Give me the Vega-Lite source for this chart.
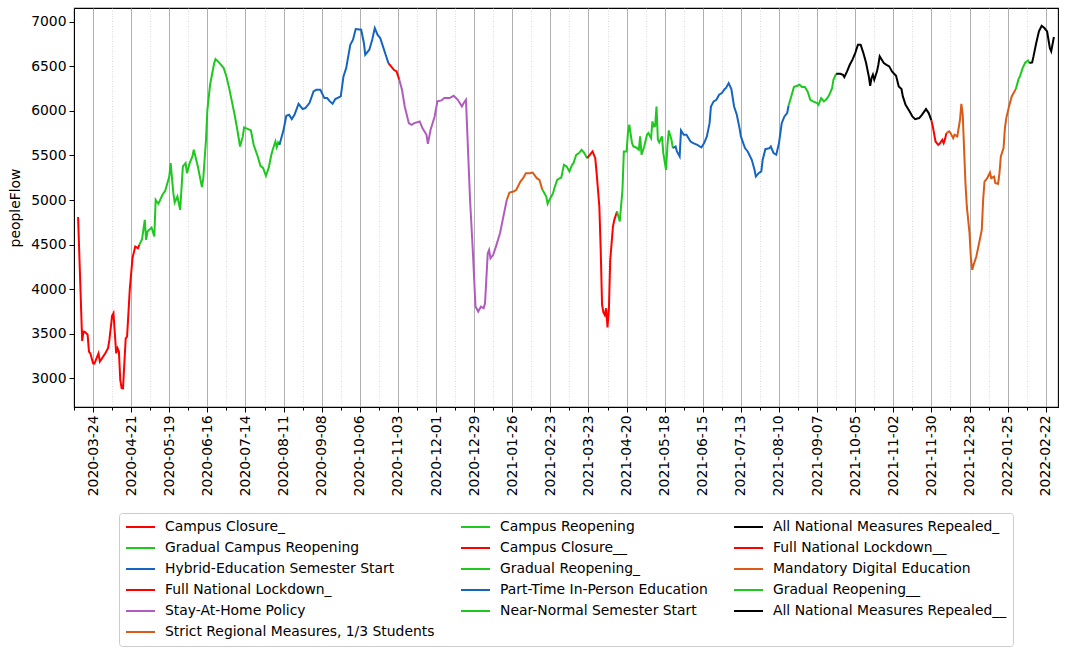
{
  "$schema": "https://vega.github.io/schema/vega-lite/v6.json",
  "width": 984,
  "height": 399,
  "autosize": {"type": "none"},
  "padding": {"left": 74, "top": 8, "right": 11, "bottom": 248},
  "background": "white",
  "config": {
    "font": "DejaVu Sans",
    "view": {"stroke": "black", "strokeWidth": 1.1},
    "axis": {"labelFont": "DejaVu Sans", "labelFontSize": 13.9, "labelColor": "black", "titleFont": "DejaVu Sans", "titleFontSize": 13.9, "titleFontWeight": "normal", "titleColor": "black", "domainColor": "black", "tickColor": "black", "tickWidth": 1}
  },
  "data": {"values": [
    {"date": "2020-03-13", "peopleFlow": 4810, "phase": "Campus Closure_"},
    {"date": "2020-03-16", "peopleFlow": 3420, "phase": "Campus Closure_"},
    {"date": "2020-03-17", "peopleFlow": 3525, "phase": "Campus Closure_"},
    {"date": "2020-03-18", "peopleFlow": 3520, "phase": "Campus Closure_"},
    {"date": "2020-03-20", "peopleFlow": 3490, "phase": "Campus Closure_"},
    {"date": "2020-03-21", "peopleFlow": 3300, "phase": "Campus Closure_"},
    {"date": "2020-03-22", "peopleFlow": 3280, "phase": "Campus Closure_"},
    {"date": "2020-03-24", "peopleFlow": 3168, "phase": "Campus Closure_"},
    {"date": "2020-03-25", "peopleFlow": 3165, "phase": "Campus Closure_"},
    {"date": "2020-03-28", "peopleFlow": 3280, "phase": "Campus Closure_"},
    {"date": "2020-03-29", "peopleFlow": 3187, "phase": "Campus Closure_"},
    {"date": "2020-04-02", "peopleFlow": 3280, "phase": "Campus Closure_"},
    {"date": "2020-04-04", "peopleFlow": 3337, "phase": "Campus Closure_"},
    {"date": "2020-04-05", "peopleFlow": 3430, "phase": "Campus Closure_"},
    {"date": "2020-04-07", "peopleFlow": 3700, "phase": "Campus Closure_"},
    {"date": "2020-04-08", "peopleFlow": 3730, "phase": "Campus Closure_"},
    {"date": "2020-04-10", "peopleFlow": 3280, "phase": "Campus Closure_"},
    {"date": "2020-04-11", "peopleFlow": 3337, "phase": "Campus Closure_"},
    {"date": "2020-04-12", "peopleFlow": 3300, "phase": "Campus Closure_"},
    {"date": "2020-04-13", "peopleFlow": 2980, "phase": "Campus Closure_"},
    {"date": "2020-04-14", "peopleFlow": 2890, "phase": "Campus Closure_"},
    {"date": "2020-04-15", "peopleFlow": 2888, "phase": "Campus Closure_"},
    {"date": "2020-04-17", "peopleFlow": 3449, "phase": "Campus Closure_"},
    {"date": "2020-04-18", "peopleFlow": 3468, "phase": "Campus Closure_"},
    {"date": "2020-04-20", "peopleFlow": 4000, "phase": "Campus Closure_"},
    {"date": "2020-04-22", "peopleFlow": 4350, "phase": "Campus Closure_"},
    {"date": "2020-04-24", "peopleFlow": 4478, "phase": "Campus Closure_"},
    {"date": "2020-04-26", "peopleFlow": 4460, "phase": "Campus Closure_"},
    {"date": "2020-04-27", "peopleFlow": 4497, "phase": "Campus Closure_"},

    {"date": "2020-04-27", "peopleFlow": 4497, "phase": "Gradual Campus Reopening"},
    {"date": "2020-04-29", "peopleFlow": 4560, "phase": "Gradual Campus Reopening"},
    {"date": "2020-05-01", "peopleFlow": 4778, "phase": "Gradual Campus Reopening"},
    {"date": "2020-05-02", "peopleFlow": 4553, "phase": "Gradual Campus Reopening"},
    {"date": "2020-05-03", "peopleFlow": 4647, "phase": "Gradual Campus Reopening"},
    {"date": "2020-05-06", "peopleFlow": 4692, "phase": "Gradual Campus Reopening"},
    {"date": "2020-05-08", "peopleFlow": 4591, "phase": "Gradual Campus Reopening"},
    {"date": "2020-05-09", "peopleFlow": 5003, "phase": "Gradual Campus Reopening"},
    {"date": "2020-05-11", "peopleFlow": 4958, "phase": "Gradual Campus Reopening"},
    {"date": "2020-05-14", "peopleFlow": 5059, "phase": "Gradual Campus Reopening"},
    {"date": "2020-05-16", "peopleFlow": 5104, "phase": "Gradual Campus Reopening"},
    {"date": "2020-05-19", "peopleFlow": 5264, "phase": "Gradual Campus Reopening"},
    {"date": "2020-05-20", "peopleFlow": 5414, "phase": "Gradual Campus Reopening"},
    {"date": "2020-05-22", "peopleFlow": 5077, "phase": "Gradual Campus Reopening"},
    {"date": "2020-05-23", "peopleFlow": 4973, "phase": "Gradual Campus Reopening"},
    {"date": "2020-05-25", "peopleFlow": 5040, "phase": "Gradual Campus Reopening"},
    {"date": "2020-05-27", "peopleFlow": 4890, "phase": "Gradual Campus Reopening"},
    {"date": "2020-05-29", "peopleFlow": 5377, "phase": "Gradual Campus Reopening"},
    {"date": "2020-05-31", "peopleFlow": 5414, "phase": "Gradual Campus Reopening"},
    {"date": "2020-06-01", "peopleFlow": 5302, "phase": "Gradual Campus Reopening"},
    {"date": "2020-06-03", "peopleFlow": 5414, "phase": "Gradual Campus Reopening"},
    {"date": "2020-06-05", "peopleFlow": 5489, "phase": "Gradual Campus Reopening"},
    {"date": "2020-06-06", "peopleFlow": 5564, "phase": "Gradual Campus Reopening"},
    {"date": "2020-06-09", "peopleFlow": 5377, "phase": "Gradual Campus Reopening"},
    {"date": "2020-06-12", "peopleFlow": 5145, "phase": "Gradual Campus Reopening"},
    {"date": "2020-06-13", "peopleFlow": 5246, "phase": "Gradual Campus Reopening"},
    {"date": "2020-06-15", "peopleFlow": 5676, "phase": "Gradual Campus Reopening"},
    {"date": "2020-06-16", "peopleFlow": 6013, "phase": "Gradual Campus Reopening"},
    {"date": "2020-06-18", "peopleFlow": 6294, "phase": "Gradual Campus Reopening"},
    {"date": "2020-06-21", "peopleFlow": 6537, "phase": "Gradual Campus Reopening"},
    {"date": "2020-06-22", "peopleFlow": 6582, "phase": "Gradual Campus Reopening"},
    {"date": "2020-06-25", "peopleFlow": 6537, "phase": "Gradual Campus Reopening"},
    {"date": "2020-06-28", "peopleFlow": 6481, "phase": "Gradual Campus Reopening"},
    {"date": "2020-06-30", "peopleFlow": 6387, "phase": "Gradual Campus Reopening"},
    {"date": "2020-07-02", "peopleFlow": 6256, "phase": "Gradual Campus Reopening"},
    {"date": "2020-07-04", "peopleFlow": 6107, "phase": "Gradual Campus Reopening"},
    {"date": "2020-07-06", "peopleFlow": 5957, "phase": "Gradual Campus Reopening"},
    {"date": "2020-07-08", "peopleFlow": 5789, "phase": "Gradual Campus Reopening"},
    {"date": "2020-07-10", "peopleFlow": 5601, "phase": "Gradual Campus Reopening"},
    {"date": "2020-07-12", "peopleFlow": 5714, "phase": "Gradual Campus Reopening"},
    {"date": "2020-07-13", "peopleFlow": 5815, "phase": "Gradual Campus Reopening"},
    {"date": "2020-07-16", "peopleFlow": 5796, "phase": "Gradual Campus Reopening"},
    {"date": "2020-07-18", "peopleFlow": 5781, "phase": "Gradual Campus Reopening"},
    {"date": "2020-07-20", "peopleFlow": 5620, "phase": "Gradual Campus Reopening"},
    {"date": "2020-07-23", "peopleFlow": 5489, "phase": "Gradual Campus Reopening"},
    {"date": "2020-07-25", "peopleFlow": 5384, "phase": "Gradual Campus Reopening"},
    {"date": "2020-07-27", "peopleFlow": 5358, "phase": "Gradual Campus Reopening"},
    {"date": "2020-07-29", "peopleFlow": 5272, "phase": "Gradual Campus Reopening"},
    {"date": "2020-07-31", "peopleFlow": 5358, "phase": "Gradual Campus Reopening"},
    {"date": "2020-08-02", "peopleFlow": 5508, "phase": "Gradual Campus Reopening"},
    {"date": "2020-08-03", "peopleFlow": 5564, "phase": "Gradual Campus Reopening"},
    {"date": "2020-08-05", "peopleFlow": 5657, "phase": "Gradual Campus Reopening"},
    {"date": "2020-08-06", "peopleFlow": 5594, "phase": "Gradual Campus Reopening"},
    {"date": "2020-08-07", "peopleFlow": 5646, "phase": "Gradual Campus Reopening"},
    {"date": "2020-08-08", "peopleFlow": 5620, "phase": "Gradual Campus Reopening"},

    {"date": "2020-08-08", "peopleFlow": 5620, "phase": "Hybrid-Education Semester Start"},
    {"date": "2020-08-11", "peopleFlow": 5789, "phase": "Hybrid-Education Semester Start"},
    {"date": "2020-08-13", "peopleFlow": 5946, "phase": "Hybrid-Education Semester Start"},
    {"date": "2020-08-15", "peopleFlow": 5957, "phase": "Hybrid-Education Semester Start"},
    {"date": "2020-08-17", "peopleFlow": 5908, "phase": "Hybrid-Education Semester Start"},
    {"date": "2020-08-19", "peopleFlow": 5957, "phase": "Hybrid-Education Semester Start"},
    {"date": "2020-08-22", "peopleFlow": 6080, "phase": "Hybrid-Education Semester Start"},
    {"date": "2020-08-25", "peopleFlow": 6021, "phase": "Hybrid-Education Semester Start"},
    {"date": "2020-08-27", "peopleFlow": 6032, "phase": "Hybrid-Education Semester Start"},
    {"date": "2020-08-30", "peopleFlow": 6088, "phase": "Hybrid-Education Semester Start"},
    {"date": "2020-09-02", "peopleFlow": 6219, "phase": "Hybrid-Education Semester Start"},
    {"date": "2020-09-04", "peopleFlow": 6237, "phase": "Hybrid-Education Semester Start"},
    {"date": "2020-09-07", "peopleFlow": 6237, "phase": "Hybrid-Education Semester Start"},
    {"date": "2020-09-10", "peopleFlow": 6144, "phase": "Hybrid-Education Semester Start"},
    {"date": "2020-09-12", "peopleFlow": 6144, "phase": "Hybrid-Education Semester Start"},
    {"date": "2020-09-14", "peopleFlow": 6107, "phase": "Hybrid-Education Semester Start"},
    {"date": "2020-09-16", "peopleFlow": 6080, "phase": "Hybrid-Education Semester Start"},
    {"date": "2020-09-18", "peopleFlow": 6133, "phase": "Hybrid-Education Semester Start"},
    {"date": "2020-09-22", "peopleFlow": 6163, "phase": "Hybrid-Education Semester Start"},
    {"date": "2020-09-24", "peopleFlow": 6387, "phase": "Hybrid-Education Semester Start"},
    {"date": "2020-09-26", "peopleFlow": 6481, "phase": "Hybrid-Education Semester Start"},
    {"date": "2020-09-29", "peopleFlow": 6743, "phase": "Hybrid-Education Semester Start"},
    {"date": "2020-10-01", "peopleFlow": 6799, "phase": "Hybrid-Education Semester Start"},
    {"date": "2020-10-03", "peopleFlow": 6919, "phase": "Hybrid-Education Semester Start"},
    {"date": "2020-10-07", "peopleFlow": 6911, "phase": "Hybrid-Education Semester Start"},
    {"date": "2020-10-09", "peopleFlow": 6762, "phase": "Hybrid-Education Semester Start"},
    {"date": "2020-10-10", "peopleFlow": 6631, "phase": "Hybrid-Education Semester Start"},
    {"date": "2020-10-13", "peopleFlow": 6687, "phase": "Hybrid-Education Semester Start"},
    {"date": "2020-10-15", "peopleFlow": 6792, "phase": "Hybrid-Education Semester Start"},
    {"date": "2020-10-17", "peopleFlow": 6930, "phase": "Hybrid-Education Semester Start"},
    {"date": "2020-10-19", "peopleFlow": 6855, "phase": "Hybrid-Education Semester Start"},
    {"date": "2020-10-21", "peopleFlow": 6818, "phase": "Hybrid-Education Semester Start"},
    {"date": "2020-10-23", "peopleFlow": 6724, "phase": "Hybrid-Education Semester Start"},
    {"date": "2020-10-25", "peopleFlow": 6631, "phase": "Hybrid-Education Semester Start"},
    {"date": "2020-10-27", "peopleFlow": 6537, "phase": "Hybrid-Education Semester Start"},

    {"date": "2020-10-27", "peopleFlow": 6537, "phase": "Full National Lockdown_"},
    {"date": "2020-10-29", "peopleFlow": 6500, "phase": "Full National Lockdown_"},
    {"date": "2020-10-31", "peopleFlow": 6462, "phase": "Full National Lockdown_"},
    {"date": "2020-11-02", "peopleFlow": 6444, "phase": "Full National Lockdown_"},
    {"date": "2020-11-04", "peopleFlow": 6350, "phase": "Full National Lockdown_"},

    {"date": "2020-11-04", "peopleFlow": 6350, "phase": "Stay-At-Home Policy"},
    {"date": "2020-11-06", "peopleFlow": 6237, "phase": "Stay-At-Home Policy"},
    {"date": "2020-11-08", "peopleFlow": 6050, "phase": "Stay-At-Home Policy"},
    {"date": "2020-11-11", "peopleFlow": 5863, "phase": "Stay-At-Home Policy"},
    {"date": "2020-11-13", "peopleFlow": 5845, "phase": "Stay-At-Home Policy"},
    {"date": "2020-11-15", "peopleFlow": 5863, "phase": "Stay-At-Home Policy"},
    {"date": "2020-11-19", "peopleFlow": 5882, "phase": "Stay-At-Home Policy"},
    {"date": "2020-11-21", "peopleFlow": 5807, "phase": "Stay-At-Home Policy"},
    {"date": "2020-11-24", "peopleFlow": 5732, "phase": "Stay-At-Home Policy"},
    {"date": "2020-11-25", "peopleFlow": 5631, "phase": "Stay-At-Home Policy"},
    {"date": "2020-11-27", "peopleFlow": 5789, "phase": "Stay-At-Home Policy"},
    {"date": "2020-11-30", "peopleFlow": 5938, "phase": "Stay-At-Home Policy"},
    {"date": "2020-12-02", "peopleFlow": 6107, "phase": "Stay-At-Home Policy"},
    {"date": "2020-12-05", "peopleFlow": 6118, "phase": "Stay-At-Home Policy"},
    {"date": "2020-12-07", "peopleFlow": 6144, "phase": "Stay-At-Home Policy"},
    {"date": "2020-12-11", "peopleFlow": 6144, "phase": "Stay-At-Home Policy"},
    {"date": "2020-12-14", "peopleFlow": 6170, "phase": "Stay-At-Home Policy"},
    {"date": "2020-12-17", "peopleFlow": 6125, "phase": "Stay-At-Home Policy"},
    {"date": "2020-12-20", "peopleFlow": 6050, "phase": "Stay-At-Home Policy"},
    {"date": "2020-12-21", "peopleFlow": 6080, "phase": "Stay-At-Home Policy"},
    {"date": "2020-12-23", "peopleFlow": 6125, "phase": "Stay-At-Home Policy"},
    {"date": "2020-12-24", "peopleFlow": 5751, "phase": "Stay-At-Home Policy"},
    {"date": "2020-12-26", "peopleFlow": 5003, "phase": "Stay-At-Home Policy"},
    {"date": "2020-12-28", "peopleFlow": 4441, "phase": "Stay-At-Home Policy"},
    {"date": "2020-12-30", "peopleFlow": 3805, "phase": "Stay-At-Home Policy"},
    {"date": "2021-01-01", "peopleFlow": 3749, "phase": "Stay-At-Home Policy"},
    {"date": "2021-01-03", "peopleFlow": 3805, "phase": "Stay-At-Home Policy"},
    {"date": "2021-01-05", "peopleFlow": 3786, "phase": "Stay-At-Home Policy"},
    {"date": "2021-01-06", "peopleFlow": 3842, "phase": "Stay-At-Home Policy"},
    {"date": "2021-01-08", "peopleFlow": 4404, "phase": "Stay-At-Home Policy"},
    {"date": "2021-01-09", "peopleFlow": 4441, "phase": "Stay-At-Home Policy"},
    {"date": "2021-01-10", "peopleFlow": 4347, "phase": "Stay-At-Home Policy"},
    {"date": "2021-01-12", "peopleFlow": 4385, "phase": "Stay-At-Home Policy"},
    {"date": "2021-01-14", "peopleFlow": 4478, "phase": "Stay-At-Home Policy"},
    {"date": "2021-01-17", "peopleFlow": 4628, "phase": "Stay-At-Home Policy"},
    {"date": "2021-01-19", "peopleFlow": 4778, "phase": "Stay-At-Home Policy"},
    {"date": "2021-01-21", "peopleFlow": 4928, "phase": "Stay-At-Home Policy"},
    {"date": "2021-01-22", "peopleFlow": 5003, "phase": "Stay-At-Home Policy"},

    {"date": "2021-01-22", "peopleFlow": 5003, "phase": "Strict Regional Measures, 1/3 Students"},
    {"date": "2021-01-24", "peopleFlow": 5085, "phase": "Strict Regional Measures, 1/3 Students"},
    {"date": "2021-01-27", "peopleFlow": 5096, "phase": "Strict Regional Measures, 1/3 Students"},
    {"date": "2021-01-29", "peopleFlow": 5115, "phase": "Strict Regional Measures, 1/3 Students"},
    {"date": "2021-02-01", "peopleFlow": 5208, "phase": "Strict Regional Measures, 1/3 Students"},
    {"date": "2021-02-03", "peopleFlow": 5246, "phase": "Strict Regional Measures, 1/3 Students"},
    {"date": "2021-02-05", "peopleFlow": 5302, "phase": "Strict Regional Measures, 1/3 Students"},
    {"date": "2021-02-08", "peopleFlow": 5302, "phase": "Strict Regional Measures, 1/3 Students"},
    {"date": "2021-02-10", "peopleFlow": 5309, "phase": "Strict Regional Measures, 1/3 Students"},
    {"date": "2021-02-13", "peopleFlow": 5246, "phase": "Strict Regional Measures, 1/3 Students"},
    {"date": "2021-02-15", "peopleFlow": 5227, "phase": "Strict Regional Measures, 1/3 Students"},
    {"date": "2021-02-17", "peopleFlow": 5120, "phase": "Strict Regional Measures, 1/3 Students"},

    {"date": "2021-02-17", "peopleFlow": 5120, "phase": "Campus Reopening"},
    {"date": "2021-02-20", "peopleFlow": 5040, "phase": "Campus Reopening"},
    {"date": "2021-02-21", "peopleFlow": 4958, "phase": "Campus Reopening"},
    {"date": "2021-02-23", "peopleFlow": 5021, "phase": "Campus Reopening"},
    {"date": "2021-02-25", "peopleFlow": 5077, "phase": "Campus Reopening"},
    {"date": "2021-02-26", "peopleFlow": 5134, "phase": "Campus Reopening"},
    {"date": "2021-02-28", "peopleFlow": 5227, "phase": "Campus Reopening"},
    {"date": "2021-03-02", "peopleFlow": 5246, "phase": "Campus Reopening"},
    {"date": "2021-03-03", "peopleFlow": 5250, "phase": "Campus Reopening"},
    {"date": "2021-03-05", "peopleFlow": 5396, "phase": "Campus Reopening"},
    {"date": "2021-03-07", "peopleFlow": 5377, "phase": "Campus Reopening"},
    {"date": "2021-03-09", "peopleFlow": 5321, "phase": "Campus Reopening"},
    {"date": "2021-03-11", "peopleFlow": 5396, "phase": "Campus Reopening"},
    {"date": "2021-03-12", "peopleFlow": 5414, "phase": "Campus Reopening"},
    {"date": "2021-03-14", "peopleFlow": 5508, "phase": "Campus Reopening"},
    {"date": "2021-03-16", "peopleFlow": 5527, "phase": "Campus Reopening"},
    {"date": "2021-03-18", "peopleFlow": 5564, "phase": "Campus Reopening"},
    {"date": "2021-03-20", "peopleFlow": 5527, "phase": "Campus Reopening"},
    {"date": "2021-03-22", "peopleFlow": 5470, "phase": "Campus Reopening"},

    {"date": "2021-03-22", "peopleFlow": 5470, "phase": "Campus Closure__"},
    {"date": "2021-03-24", "peopleFlow": 5508, "phase": "Campus Closure__"},
    {"date": "2021-03-26", "peopleFlow": 5545, "phase": "Campus Closure__"},
    {"date": "2021-03-28", "peopleFlow": 5470, "phase": "Campus Closure__"},
    {"date": "2021-03-29", "peopleFlow": 5302, "phase": "Campus Closure__"},
    {"date": "2021-03-31", "peopleFlow": 4928, "phase": "Campus Closure__"},
    {"date": "2021-04-01", "peopleFlow": 4441, "phase": "Campus Closure__"},
    {"date": "2021-04-02", "peopleFlow": 3823, "phase": "Campus Closure__"},
    {"date": "2021-04-03", "peopleFlow": 3740, "phase": "Campus Closure__"},
    {"date": "2021-04-04", "peopleFlow": 3711, "phase": "Campus Closure__"},
    {"date": "2021-04-05", "peopleFlow": 3786, "phase": "Campus Closure__"},
    {"date": "2021-04-06", "peopleFlow": 3570, "phase": "Campus Closure__"},
    {"date": "2021-04-07", "peopleFlow": 3767, "phase": "Campus Closure__"},
    {"date": "2021-04-08", "peopleFlow": 4329, "phase": "Campus Closure__"},
    {"date": "2021-04-10", "peopleFlow": 4703, "phase": "Campus Closure__"},
    {"date": "2021-04-11", "peopleFlow": 4778, "phase": "Campus Closure__"},
    {"date": "2021-04-13", "peopleFlow": 4872, "phase": "Campus Closure__"},

    {"date": "2021-04-13", "peopleFlow": 4872, "phase": "Gradual Reopening_"},
    {"date": "2021-04-15", "peopleFlow": 4759, "phase": "Gradual Reopening_"},
    {"date": "2021-04-17", "peopleFlow": 5115, "phase": "Gradual Reopening_"},
    {"date": "2021-04-18", "peopleFlow": 5545, "phase": "Gradual Reopening_"},
    {"date": "2021-04-20", "peopleFlow": 5545, "phase": "Gradual Reopening_"},
    {"date": "2021-04-21", "peopleFlow": 5751, "phase": "Gradual Reopening_"},
    {"date": "2021-04-22", "peopleFlow": 5845, "phase": "Gradual Reopening_"},
    {"date": "2021-04-24", "peopleFlow": 5639, "phase": "Gradual Reopening_"},
    {"date": "2021-04-25", "peopleFlow": 5601, "phase": "Gradual Reopening_"},
    {"date": "2021-04-27", "peopleFlow": 5590, "phase": "Gradual Reopening_"},
    {"date": "2021-04-29", "peopleFlow": 5564, "phase": "Gradual Reopening_"},
    {"date": "2021-04-30", "peopleFlow": 5714, "phase": "Gradual Reopening_"},
    {"date": "2021-05-01", "peopleFlow": 5508, "phase": "Gradual Reopening_"},
    {"date": "2021-05-03", "peopleFlow": 5601, "phase": "Gradual Reopening_"},
    {"date": "2021-05-05", "peopleFlow": 5732, "phase": "Gradual Reopening_"},
    {"date": "2021-05-06", "peopleFlow": 5751, "phase": "Gradual Reopening_"},
    {"date": "2021-05-08", "peopleFlow": 5695, "phase": "Gradual Reopening_"},
    {"date": "2021-05-09", "peopleFlow": 5882, "phase": "Gradual Reopening_"},
    {"date": "2021-05-10", "peopleFlow": 5826, "phase": "Gradual Reopening_"},
    {"date": "2021-05-11", "peopleFlow": 5833, "phase": "Gradual Reopening_"},
    {"date": "2021-05-12", "peopleFlow": 6050, "phase": "Gradual Reopening_"},
    {"date": "2021-05-13", "peopleFlow": 5676, "phase": "Gradual Reopening_"},
    {"date": "2021-05-14", "peopleFlow": 5646, "phase": "Gradual Reopening_"},
    {"date": "2021-05-16", "peopleFlow": 5714, "phase": "Gradual Reopening_"},
    {"date": "2021-05-17", "peopleFlow": 5527, "phase": "Gradual Reopening_"},
    {"date": "2021-05-19", "peopleFlow": 5339, "phase": "Gradual Reopening_"},
    {"date": "2021-05-20", "peopleFlow": 5601, "phase": "Gradual Reopening_"},
    {"date": "2021-05-21", "peopleFlow": 5781, "phase": "Gradual Reopening_"},
    {"date": "2021-05-23", "peopleFlow": 5676, "phase": "Gradual Reopening_"},
    {"date": "2021-05-24", "peopleFlow": 5583, "phase": "Gradual Reopening_"},

    {"date": "2021-05-24", "peopleFlow": 5583, "phase": "Part-Time In-Person Education"},
    {"date": "2021-05-26", "peopleFlow": 5601, "phase": "Part-Time In-Person Education"},
    {"date": "2021-05-27", "peopleFlow": 5545, "phase": "Part-Time In-Person Education"},
    {"date": "2021-05-29", "peopleFlow": 5489, "phase": "Part-Time In-Person Education"},
    {"date": "2021-05-30", "peopleFlow": 5780, "phase": "Part-Time In-Person Education"},
    {"date": "2021-06-01", "peopleFlow": 5732, "phase": "Part-Time In-Person Education"},
    {"date": "2021-06-03", "peopleFlow": 5732, "phase": "Part-Time In-Person Education"},
    {"date": "2021-06-06", "peopleFlow": 5657, "phase": "Part-Time In-Person Education"},
    {"date": "2021-06-08", "peopleFlow": 5639, "phase": "Part-Time In-Person Education"},
    {"date": "2021-06-11", "peopleFlow": 5620, "phase": "Part-Time In-Person Education"},
    {"date": "2021-06-14", "peopleFlow": 5590, "phase": "Part-Time In-Person Education"},
    {"date": "2021-06-16", "peopleFlow": 5639, "phase": "Part-Time In-Person Education"},
    {"date": "2021-06-18", "peopleFlow": 5714, "phase": "Part-Time In-Person Education"},
    {"date": "2021-06-20", "peopleFlow": 5863, "phase": "Part-Time In-Person Education"},
    {"date": "2021-06-21", "peopleFlow": 6050, "phase": "Part-Time In-Person Education"},
    {"date": "2021-06-23", "peopleFlow": 6107, "phase": "Part-Time In-Person Education"},
    {"date": "2021-06-25", "peopleFlow": 6125, "phase": "Part-Time In-Person Education"},
    {"date": "2021-06-27", "peopleFlow": 6182, "phase": "Part-Time In-Person Education"},
    {"date": "2021-06-29", "peopleFlow": 6200, "phase": "Part-Time In-Person Education"},
    {"date": "2021-07-01", "peopleFlow": 6245, "phase": "Part-Time In-Person Education"},
    {"date": "2021-07-02", "peopleFlow": 6256, "phase": "Part-Time In-Person Education"},
    {"date": "2021-07-04", "peopleFlow": 6312, "phase": "Part-Time In-Person Education"},
    {"date": "2021-07-06", "peopleFlow": 6245, "phase": "Part-Time In-Person Education"},
    {"date": "2021-07-08", "peopleFlow": 6050, "phase": "Part-Time In-Person Education"},
    {"date": "2021-07-10", "peopleFlow": 5957, "phase": "Part-Time In-Person Education"},
    {"date": "2021-07-12", "peopleFlow": 5807, "phase": "Part-Time In-Person Education"},
    {"date": "2021-07-13", "peopleFlow": 5714, "phase": "Part-Time In-Person Education"},
    {"date": "2021-07-16", "peopleFlow": 5583, "phase": "Part-Time In-Person Education"},
    {"date": "2021-07-18", "peopleFlow": 5545, "phase": "Part-Time In-Person Education"},
    {"date": "2021-07-21", "peopleFlow": 5452, "phase": "Part-Time In-Person Education"},
    {"date": "2021-07-23", "peopleFlow": 5339, "phase": "Part-Time In-Person Education"},
    {"date": "2021-07-24", "peopleFlow": 5264, "phase": "Part-Time In-Person Education"},
    {"date": "2021-07-26", "peopleFlow": 5302, "phase": "Part-Time In-Person Education"},
    {"date": "2021-07-28", "peopleFlow": 5321, "phase": "Part-Time In-Person Education"},
    {"date": "2021-07-29", "peopleFlow": 5452, "phase": "Part-Time In-Person Education"},
    {"date": "2021-07-31", "peopleFlow": 5571, "phase": "Part-Time In-Person Education"},
    {"date": "2021-08-03", "peopleFlow": 5583, "phase": "Part-Time In-Person Education"},
    {"date": "2021-08-04", "peopleFlow": 5601, "phase": "Part-Time In-Person Education"},
    {"date": "2021-08-06", "peopleFlow": 5527, "phase": "Part-Time In-Person Education"},
    {"date": "2021-08-08", "peopleFlow": 5508, "phase": "Part-Time In-Person Education"},
    {"date": "2021-08-10", "peopleFlow": 5639, "phase": "Part-Time In-Person Education"},
    {"date": "2021-08-12", "peopleFlow": 5863, "phase": "Part-Time In-Person Education"},
    {"date": "2021-08-14", "peopleFlow": 5938, "phase": "Part-Time In-Person Education"},
    {"date": "2021-08-16", "peopleFlow": 5976, "phase": "Part-Time In-Person Education"},
    {"date": "2021-08-17", "peopleFlow": 6058, "phase": "Part-Time In-Person Education"},

    {"date": "2021-08-17", "peopleFlow": 6058, "phase": "Near-Normal Semester Start"},
    {"date": "2021-08-19", "peopleFlow": 6163, "phase": "Near-Normal Semester Start"},
    {"date": "2021-08-21", "peopleFlow": 6270, "phase": "Near-Normal Semester Start"},
    {"date": "2021-08-23", "peopleFlow": 6280, "phase": "Near-Normal Semester Start"},
    {"date": "2021-08-25", "peopleFlow": 6294, "phase": "Near-Normal Semester Start"},
    {"date": "2021-08-27", "peopleFlow": 6268, "phase": "Near-Normal Semester Start"},
    {"date": "2021-08-29", "peopleFlow": 6268, "phase": "Near-Normal Semester Start"},
    {"date": "2021-08-31", "peopleFlow": 6219, "phase": "Near-Normal Semester Start"},
    {"date": "2021-09-02", "peopleFlow": 6125, "phase": "Near-Normal Semester Start"},
    {"date": "2021-09-04", "peopleFlow": 6107, "phase": "Near-Normal Semester Start"},
    {"date": "2021-09-07", "peopleFlow": 6088, "phase": "Near-Normal Semester Start"},
    {"date": "2021-09-08", "peopleFlow": 6069, "phase": "Near-Normal Semester Start"},
    {"date": "2021-09-10", "peopleFlow": 6144, "phase": "Near-Normal Semester Start"},
    {"date": "2021-09-12", "peopleFlow": 6107, "phase": "Near-Normal Semester Start"},
    {"date": "2021-09-14", "peopleFlow": 6133, "phase": "Near-Normal Semester Start"},
    {"date": "2021-09-16", "peopleFlow": 6182, "phase": "Near-Normal Semester Start"},
    {"date": "2021-09-18", "peopleFlow": 6256, "phase": "Near-Normal Semester Start"},
    {"date": "2021-09-19", "peopleFlow": 6350, "phase": "Near-Normal Semester Start"},
    {"date": "2021-09-21", "peopleFlow": 6417, "phase": "Near-Normal Semester Start"},

    {"date": "2021-09-21", "peopleFlow": 6417, "phase": "All National Measures Repealed_"},
    {"date": "2021-09-24", "peopleFlow": 6417, "phase": "All National Measures Repealed_"},
    {"date": "2021-09-26", "peopleFlow": 6406, "phase": "All National Measures Repealed_"},
    {"date": "2021-09-27", "peopleFlow": 6380, "phase": "All National Measures Repealed_"},
    {"date": "2021-09-29", "peopleFlow": 6444, "phase": "All National Measures Repealed_"},
    {"date": "2021-10-01", "peopleFlow": 6518, "phase": "All National Measures Repealed_"},
    {"date": "2021-10-03", "peopleFlow": 6575, "phase": "All National Measures Repealed_"},
    {"date": "2021-10-05", "peopleFlow": 6649, "phase": "All National Measures Repealed_"},
    {"date": "2021-10-07", "peopleFlow": 6743, "phase": "All National Measures Repealed_"},
    {"date": "2021-10-09", "peopleFlow": 6743, "phase": "All National Measures Repealed_"},
    {"date": "2021-10-11", "peopleFlow": 6649, "phase": "All National Measures Repealed_"},
    {"date": "2021-10-13", "peopleFlow": 6537, "phase": "All National Measures Repealed_"},
    {"date": "2021-10-15", "peopleFlow": 6387, "phase": "All National Measures Repealed_"},
    {"date": "2021-10-16", "peopleFlow": 6282, "phase": "All National Measures Repealed_"},
    {"date": "2021-10-17", "peopleFlow": 6368, "phase": "All National Measures Repealed_"},
    {"date": "2021-10-18", "peopleFlow": 6406, "phase": "All National Measures Repealed_"},
    {"date": "2021-10-19", "peopleFlow": 6350, "phase": "All National Measures Repealed_"},
    {"date": "2021-10-21", "peopleFlow": 6444, "phase": "All National Measures Repealed_"},
    {"date": "2021-10-22", "peopleFlow": 6518, "phase": "All National Measures Repealed_"},
    {"date": "2021-10-23", "peopleFlow": 6612, "phase": "All National Measures Repealed_"},
    {"date": "2021-10-25", "peopleFlow": 6563, "phase": "All National Measures Repealed_"},
    {"date": "2021-10-26", "peopleFlow": 6537, "phase": "All National Measures Repealed_"},
    {"date": "2021-10-28", "peopleFlow": 6518, "phase": "All National Measures Repealed_"},
    {"date": "2021-10-30", "peopleFlow": 6500, "phase": "All National Measures Repealed_"},
    {"date": "2021-11-01", "peopleFlow": 6444, "phase": "All National Measures Repealed_"},
    {"date": "2021-11-04", "peopleFlow": 6395, "phase": "All National Measures Repealed_"},
    {"date": "2021-11-06", "peopleFlow": 6275, "phase": "All National Measures Repealed_"},
    {"date": "2021-11-08", "peopleFlow": 6245, "phase": "All National Measures Repealed_"},
    {"date": "2021-11-09", "peopleFlow": 6163, "phase": "All National Measures Repealed_"},
    {"date": "2021-11-11", "peopleFlow": 6069, "phase": "All National Measures Repealed_"},
    {"date": "2021-11-14", "peopleFlow": 5994, "phase": "All National Measures Repealed_"},
    {"date": "2021-11-16", "peopleFlow": 5938, "phase": "All National Measures Repealed_"},
    {"date": "2021-11-18", "peopleFlow": 5908, "phase": "All National Measures Repealed_"},
    {"date": "2021-11-21", "peopleFlow": 5920, "phase": "All National Measures Repealed_"},
    {"date": "2021-11-23", "peopleFlow": 5957, "phase": "All National Measures Repealed_"},
    {"date": "2021-11-26", "peopleFlow": 6021, "phase": "All National Measures Repealed_"},
    {"date": "2021-11-28", "peopleFlow": 5976, "phase": "All National Measures Repealed_"},
    {"date": "2021-11-30", "peopleFlow": 5893, "phase": "All National Measures Repealed_"},

    {"date": "2021-11-30", "peopleFlow": 5893, "phase": "Full National Lockdown__"},
    {"date": "2021-12-01", "peopleFlow": 5826, "phase": "Full National Lockdown__"},
    {"date": "2021-12-03", "peopleFlow": 5657, "phase": "Full National Lockdown__"},
    {"date": "2021-12-05", "peopleFlow": 5620, "phase": "Full National Lockdown__"},
    {"date": "2021-12-06", "peopleFlow": 5631, "phase": "Full National Lockdown__"},
    {"date": "2021-12-08", "peopleFlow": 5676, "phase": "Full National Lockdown__"},
    {"date": "2021-12-09", "peopleFlow": 5639, "phase": "Full National Lockdown__"},
    {"date": "2021-12-10", "peopleFlow": 5684, "phase": "Full National Lockdown__"},
    {"date": "2021-12-11", "peopleFlow": 5751, "phase": "Full National Lockdown__"},

    {"date": "2021-12-11", "peopleFlow": 5751, "phase": "Mandatory Digital Education"},
    {"date": "2021-12-13", "peopleFlow": 5770, "phase": "Mandatory Digital Education"},
    {"date": "2021-12-14", "peopleFlow": 5751, "phase": "Mandatory Digital Education"},
    {"date": "2021-12-16", "peopleFlow": 5695, "phase": "Mandatory Digital Education"},
    {"date": "2021-12-17", "peopleFlow": 5732, "phase": "Mandatory Digital Education"},
    {"date": "2021-12-19", "peopleFlow": 5714, "phase": "Mandatory Digital Education"},
    {"date": "2021-12-21", "peopleFlow": 5901, "phase": "Mandatory Digital Education"},
    {"date": "2021-12-22", "peopleFlow": 6080, "phase": "Mandatory Digital Education"},
    {"date": "2021-12-23", "peopleFlow": 5957, "phase": "Mandatory Digital Education"},
    {"date": "2021-12-25", "peopleFlow": 5190, "phase": "Mandatory Digital Education"},
    {"date": "2021-12-26", "peopleFlow": 4928, "phase": "Mandatory Digital Education"},
    {"date": "2021-12-28", "peopleFlow": 4628, "phase": "Mandatory Digital Education"},
    {"date": "2021-12-29", "peopleFlow": 4347, "phase": "Mandatory Digital Education"},
    {"date": "2021-12-30", "peopleFlow": 4216, "phase": "Mandatory Digital Education"},
    {"date": "2021-12-31", "peopleFlow": 4273, "phase": "Mandatory Digital Education"},
    {"date": "2022-01-02", "peopleFlow": 4366, "phase": "Mandatory Digital Education"},
    {"date": "2022-01-04", "peopleFlow": 4516, "phase": "Mandatory Digital Education"},
    {"date": "2022-01-06", "peopleFlow": 4666, "phase": "Mandatory Digital Education"},
    {"date": "2022-01-07", "peopleFlow": 5003, "phase": "Mandatory Digital Education"},
    {"date": "2022-01-08", "peopleFlow": 5208, "phase": "Mandatory Digital Education"},
    {"date": "2022-01-10", "peopleFlow": 5246, "phase": "Mandatory Digital Education"},
    {"date": "2022-01-12", "peopleFlow": 5309, "phase": "Mandatory Digital Education"},
    {"date": "2022-01-13", "peopleFlow": 5246, "phase": "Mandatory Digital Education"},
    {"date": "2022-01-15", "peopleFlow": 5264, "phase": "Mandatory Digital Education"},
    {"date": "2022-01-16", "peopleFlow": 5190, "phase": "Mandatory Digital Education"},
    {"date": "2022-01-18", "peopleFlow": 5182, "phase": "Mandatory Digital Education"},
    {"date": "2022-01-19", "peopleFlow": 5302, "phase": "Mandatory Digital Education"},
    {"date": "2022-01-20", "peopleFlow": 5489, "phase": "Mandatory Digital Education"},
    {"date": "2022-01-22", "peopleFlow": 5583, "phase": "Mandatory Digital Education"},
    {"date": "2022-01-23", "peopleFlow": 5807, "phase": "Mandatory Digital Education"},
    {"date": "2022-01-24", "peopleFlow": 5920, "phase": "Mandatory Digital Education"},
    {"date": "2022-01-26", "peopleFlow": 6050, "phase": "Mandatory Digital Education"},
    {"date": "2022-01-28", "peopleFlow": 6163, "phase": "Mandatory Digital Education"},
    {"date": "2022-01-30", "peopleFlow": 6219, "phase": "Mandatory Digital Education"},
    {"date": "2022-01-31", "peopleFlow": 6245, "phase": "Mandatory Digital Education"},

    {"date": "2022-01-31", "peopleFlow": 6245, "phase": "Gradual Reopening__"},
    {"date": "2022-02-02", "peopleFlow": 6357, "phase": "Gradual Reopening__"},
    {"date": "2022-02-03", "peopleFlow": 6387, "phase": "Gradual Reopening__"},
    {"date": "2022-02-05", "peopleFlow": 6481, "phase": "Gradual Reopening__"},
    {"date": "2022-02-07", "peopleFlow": 6545, "phase": "Gradual Reopening__"},
    {"date": "2022-02-09", "peopleFlow": 6567, "phase": "Gradual Reopening__"},
    {"date": "2022-02-10", "peopleFlow": 6537, "phase": "Gradual Reopening__"},

    {"date": "2022-02-10", "peopleFlow": 6537, "phase": "All National Measures Repealed__"},
    {"date": "2022-02-12", "peopleFlow": 6545, "phase": "All National Measures Repealed__"},
    {"date": "2022-02-13", "peopleFlow": 6612, "phase": "All National Measures Repealed__"},
    {"date": "2022-02-15", "peopleFlow": 6762, "phase": "All National Measures Repealed__"},
    {"date": "2022-02-17", "peopleFlow": 6893, "phase": "All National Measures Repealed__"},
    {"date": "2022-02-19", "peopleFlow": 6956, "phase": "All National Measures Repealed__"},
    {"date": "2022-02-21", "peopleFlow": 6930, "phase": "All National Measures Repealed__"},
    {"date": "2022-02-23", "peopleFlow": 6893, "phase": "All National Measures Repealed__"},
    {"date": "2022-02-24", "peopleFlow": 6799, "phase": "All National Measures Repealed__"},
    {"date": "2022-02-25", "peopleFlow": 6706, "phase": "All National Measures Repealed__"},
    {"date": "2022-02-26", "peopleFlow": 6670, "phase": "All National Measures Repealed__"},
    {"date": "2022-02-28", "peopleFlow": 6830, "phase": "All National Measures Repealed__"}
  ]},
  "mark": {"type": "line", "strokeWidth": 2},
  "encoding": {
    "x": {
      "field": "date",
      "type": "temporal",
      "scale": {"type": "utc", "domain": [{"year": 2020, "month": 3, "date": 10, "utc": true}, {"year": 2022, "month": 3, "date": 3, "utc": true}]},
      "axis": {
        "title": null,
        "values": [
          {"year": 2020, "month": 3, "date": 10, "utc": true}, {"year": 2020, "month": 3, "date": 24, "utc": true},
          {"year": 2020, "month": 4, "date": 7, "utc": true}, {"year": 2020, "month": 4, "date": 21, "utc": true},
          {"year": 2020, "month": 5, "date": 5, "utc": true}, {"year": 2020, "month": 5, "date": 19, "utc": true},
          {"year": 2020, "month": 6, "date": 2, "utc": true}, {"year": 2020, "month": 6, "date": 16, "utc": true},
          {"year": 2020, "month": 6, "date": 30, "utc": true}, {"year": 2020, "month": 7, "date": 14, "utc": true},
          {"year": 2020, "month": 7, "date": 28, "utc": true}, {"year": 2020, "month": 8, "date": 11, "utc": true},
          {"year": 2020, "month": 8, "date": 25, "utc": true}, {"year": 2020, "month": 9, "date": 8, "utc": true},
          {"year": 2020, "month": 9, "date": 22, "utc": true}, {"year": 2020, "month": 10, "date": 6, "utc": true},
          {"year": 2020, "month": 10, "date": 20, "utc": true}, {"year": 2020, "month": 11, "date": 3, "utc": true},
          {"year": 2020, "month": 11, "date": 17, "utc": true}, {"year": 2020, "month": 12, "date": 1, "utc": true},
          {"year": 2020, "month": 12, "date": 15, "utc": true}, {"year": 2020, "month": 12, "date": 29, "utc": true},
          {"year": 2021, "month": 1, "date": 12, "utc": true}, {"year": 2021, "month": 1, "date": 26, "utc": true},
          {"year": 2021, "month": 2, "date": 9, "utc": true}, {"year": 2021, "month": 2, "date": 23, "utc": true},
          {"year": 2021, "month": 3, "date": 9, "utc": true}, {"year": 2021, "month": 3, "date": 23, "utc": true},
          {"year": 2021, "month": 4, "date": 6, "utc": true}, {"year": 2021, "month": 4, "date": 20, "utc": true},
          {"year": 2021, "month": 5, "date": 4, "utc": true}, {"year": 2021, "month": 5, "date": 18, "utc": true},
          {"year": 2021, "month": 6, "date": 1, "utc": true}, {"year": 2021, "month": 6, "date": 15, "utc": true},
          {"year": 2021, "month": 6, "date": 29, "utc": true}, {"year": 2021, "month": 7, "date": 13, "utc": true},
          {"year": 2021, "month": 7, "date": 27, "utc": true}, {"year": 2021, "month": 8, "date": 10, "utc": true},
          {"year": 2021, "month": 8, "date": 24, "utc": true}, {"year": 2021, "month": 9, "date": 7, "utc": true},
          {"year": 2021, "month": 9, "date": 21, "utc": true}, {"year": 2021, "month": 10, "date": 5, "utc": true},
          {"year": 2021, "month": 10, "date": 19, "utc": true}, {"year": 2021, "month": 11, "date": 2, "utc": true},
          {"year": 2021, "month": 11, "date": 16, "utc": true}, {"year": 2021, "month": 11, "date": 30, "utc": true},
          {"year": 2021, "month": 12, "date": 14, "utc": true}, {"year": 2021, "month": 12, "date": 28, "utc": true},
          {"year": 2022, "month": 1, "date": 11, "utc": true}, {"year": 2022, "month": 1, "date": 25, "utc": true},
          {"year": 2022, "month": 2, "date": 8, "utc": true}, {"year": 2022, "month": 2, "date": 22, "utc": true}
        ],
        "labelExpr": "round((datum.value - utc(2020,2,10))/864e5) % 28 == 14 ? utcFormat(datum.value, '%Y-%m-%d') : ''",
        "labelAngle": 270,
        "labelOverlap": false,
        "labelFlush": false,
        "labelPadding": 3,
        "grid": true,
        "gridColor": {"condition": {"test": "round((datum.value - utc(2020,2,10))/864e5) % 28 == 14", "value": "#b0b0b0"}, "value": "#d4d4d4"},
        "gridDash": {"condition": {"test": "round((datum.value - utc(2020,2,10))/864e5) % 28 == 14", "value": []}, "value": [1, 1.5]},
        "gridWidth": {"condition": {"test": "round((datum.value - utc(2020,2,10))/864e5) % 28 == 14", "value": 1}, "value": 0.8},
        "tickSize": {"condition": {"test": "round((datum.value - utc(2020,2,10))/864e5) % 28 == 14", "value": 5}, "value": 3}
      }
    },
    "y": {
      "field": "peopleFlow",
      "type": "quantitative",
      "scale": {"domain": [2678, 7155], "nice": false, "zero": false},
      "axis": {"title": "peopleFlow", "format": "d", "values": [3000, 3500, 4000, 4500, 5000, 5500, 6000, 6500, 7000], "grid": false, "tickSize": 5, "labelPadding": 3, "titlePadding": 8}
    },
    "color": {
      "field": "phase",
      "type": "nominal",
      "scale": {
        "domain": ["Campus Closure_", "Gradual Campus Reopening", "Hybrid-Education Semester Start", "Full National Lockdown_", "Stay-At-Home Policy", "All National Measures Repealed__", "Campus Reopening", "Campus Closure__", "Gradual Reopening_", "Part-Time In-Person Education", "Near-Normal Semester Start", "Strict Regional Measures, 1/3 Students", "All National Measures Repealed_", "Full National Lockdown__", "Mandatory Digital Education", "Gradual Reopening__"],
        "range": ["#ff0000", "#1ec81e", "#1565c0", "#ff0000", "#b05cbe", "#000000", "#1ec81e", "#ff0000", "#1ec81e", "#1565c0", "#1ec81e", "#d95b17", "#000000", "#ff0000", "#d95b17", "#1ec81e"]
      },
      "legend": {
        "title": null,
        "orient": "none",
        "legendX": 45,
        "legendY": 505,
        "columns": 3,
        "symbolType": "stroke",
        "symbolSize": 841,
        "symbolStrokeWidth": 2,
        "labelFont": "DejaVu Sans",
        "labelFontSize": 13.9,
        "labelColor": "black",
        "labelLimit": 500,
        "labelOffset": 9,
        "columnPadding": 25,
        "rowPadding": 5,
        "clipHeight": 16,
        "padding": 6,
        "strokeColor": "#cccccc",
        "fillColor": "white",
        "cornerRadius": 3
      }
    }
  }
}
